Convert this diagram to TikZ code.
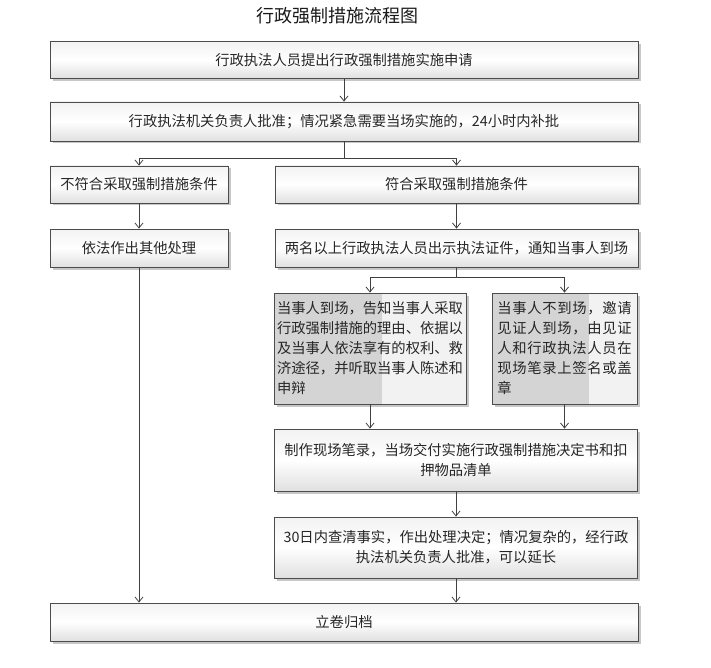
\documentclass[tikz,border=0pt]{standalone}
\usepackage{fontspec}
\setmainfont{Noto Sans CJK SC}
\usetikzlibrary{arrows.meta,shadows}

\tikzset{
  stepbox/.style={draw=black!70, line width=0.8pt, text=black!85, inner sep=2pt,
    font=\fontsize{14.3}{20}\selectfont,
    drop shadow={shadow xshift=2.5pt, shadow yshift=-2.5pt, fill=black!22, opacity=1}},
  flowbox/.style={stepbox, align=center, top color=black!5, bottom color=black!12, middle color=white},
  notebox/.style={stepbox, fill=black!5, align=left,
    path picture={\fill[black!17] (path picture bounding box.north west) rectangle ([xshift=#1]path picture bounding box.south west);}},
  flow/.style={draw=black!75, line width=0.8pt, -{Straight Barb[length=5pt,width=8pt]}}
}

\begin{document}
\begin{tikzpicture}[x=1pt, y=-1pt]

      \useasboundingbox (0,0) rectangle (711,668);

      \node[text=black!90, font=\fontsize{18}{20}\selectfont] (title) at (337,16) {行政强制措施流程图};

      \node[flowbox, minimum width=588, minimum height=37] (apply) at (344,60) {行政执法人员提出行政强制措施实施申请};
      \node[flowbox, minimum width=588, minimum height=39] (approve) at (344,121.5) {行政执法机关负责人批准；情况紧急需要当场实施的，24小时内补批};

      \node[flowbox, minimum width=178, minimum height=37] (nomeet) at (139,184.5) {不符合采取强制措施条件};
      \node[flowbox, minimum width=363, minimum height=37] (meet) at (456.5,184.5) {符合采取强制措施条件};

      \node[flowbox, minimum width=178, minimum height=38] (other) at (139,248) {依法作出其他处理};
      \node[flowbox, minimum width=363, minimum height=38] (notify) at (456.5,248) {两名以上行政执法人员出示执法证件，通知当事人到场};

      \node[notebox=108, minimum width=192, minimum height=111] (present) at (370,348.5) {当事人到场，告知当事人采取\\行政强制措施的理由、依据以\\及当事人依法享有的权利、救\\济途径，并听取当事人陈述和\\申辩};
      \node[notebox=97, minimum width=145, minimum height=111,
        font=\fontsize{14.3}{20}\selectfont\addfontfeature{LetterSpace=5}] (absent) at (564.5,348.5) {当事人不到场，邀请\\见证人到场，由见证\\人和行政执法人员在\\现场笔录上签名或盖\\章};

      \node[flowbox, minimum width=363, minimum height=62] (record) at (456,460) {制作现场笔录，当场交付实施行政强制措施决定书和扣\\押物品清单};
      \node[flowbox, minimum width=363, minimum height=61] (decide) at (456,547.5) {30日内查清事实，作出处理决定；情况复杂的，经行政\\执法机关负责人批准，可以延长};

      \node[flowbox, minimum width=588, minimum height=38] (file) at (344,622) {立卷归档};

      \coordinate (fork1) at (344,158);
      \coordinate (fork2) at (456.5,277);

      \draw[flow] (apply) -- (approve);
      \draw[flow] (approve) -- (fork1) -| (nomeet);
      \draw[flow] (fork1) -| (meet);
      \draw[flow] (nomeet) -- (other);
      \draw[flow] (other) -- (other |- file.north);
      \draw[flow] (meet) -- (notify);
      \draw[flow] (notify) -- (fork2) -| (present);
      \draw[flow] (fork2) -| (absent);
      \draw[flow] (present) -- (present |- record.north);
      \draw[flow] (absent) -- (absent |- record.north);
      \draw[flow] (record) -- (decide);
      \draw[flow] (decide) -- (decide |- file.north);

\end{tikzpicture}
\end{document}
